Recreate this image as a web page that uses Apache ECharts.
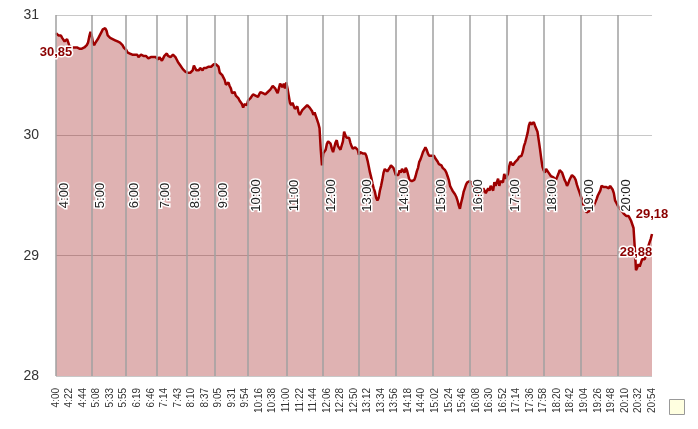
<!DOCTYPE html>
<html>
<head>
<meta charset="utf-8">
<script src="https://cdn.jsdelivr.net/npm/echarts@6/dist/echarts.min.js"></script>
<style>
  html, body { margin: 0; padding: 0; background: #fff; }
  #chart { width: 698px; height: 429px; }
</style>
</head>
<body>
<div id="chart"></div>
<script>
// tick labels shown under the axis (every 11th sampled point)
var tickLabels = ['4:00','4:22','4:44','5:08','5:33','5:55','6:19','6:46','7:14','7:43',
  '8:10','8:37','9:05','9:31','9:54','10:16','10:38','11:00','11:22','11:44',
  '12:06','12:28','12:50','13:12','13:34','13:56','14:18','14:40','15:02','15:24',
  '15:46','16:08','16:30','16:52','17:14','17:36','17:58','18:20','18:42','19:04',
  '19:26','19:48','20:10','20:32','20:54'];

// full hours marked inside the plot, and the point index where each one falls
var hourLabels = ['4:00','5:00','6:00','7:00','8:00','9:00','10:00','11:00','12:00',
  '13:00','14:00','15:00','16:00','17:00','18:00','19:00','20:00'];
var hourIndex = [0,29,57,82,106,129,156,187,217,246,276,306,336,366,396,426,456];

// price (one point every 2 minutes)
var prices = [
  30.85,30.84,30.83,30.83,30.83,30.81,30.80,30.78,30.79,30.80,
  30.77,30.74,30.73,30.73,30.72,30.73,30.72,30.73,30.72,30.72,
  30.73,30.72,30.73,30.73,30.73,30.75,30.77,30.82,30.86,30.83,
  30.77,30.75,30.77,30.78,30.80,30.82,30.83,30.86,30.88,30.89,
  30.89,30.87,30.83,30.82,30.81,30.81,30.80,30.80,30.79,30.79,
  30.78,30.78,30.77,30.77,30.75,30.73,30.72,30.71,30.69,30.68,
  30.68,30.67,30.67,30.67,30.67,30.66,30.67,30.65,30.66,30.67,
  30.67,30.66,30.65,30.66,30.65,30.64,30.65,30.65,30.64,30.65,
  30.66,30.65,30.64,30.63,30.65,30.64,30.62,30.64,30.66,30.67,
  30.68,30.66,30.65,30.65,30.66,30.67,30.67,30.65,30.63,30.61,
  30.60,30.58,30.57,30.55,30.54,30.53,30.53,30.52,30.53,30.52,
  30.52,30.54,30.58,30.56,30.54,30.55,30.54,30.56,30.55,30.54,
  30.56,30.55,30.56,30.55,30.57,30.56,30.57,30.58,30.59,30.58,
  30.59,30.59,30.57,30.52,30.51,30.50,30.48,30.46,30.42,30.43,
  30.44,30.41,30.39,30.35,30.36,30.36,30.33,30.33,30.31,30.29,
  30.28,30.26,30.23,30.26,30.26,30.25,30.29,30.30,30.31,30.32,
  30.34,30.34,30.33,30.32,30.32,30.34,30.36,30.37,30.35,30.36,
  30.34,30.33,30.36,30.37,30.38,30.39,30.41,30.42,30.39,30.37,
  30.35,30.39,30.43,30.44,30.40,30.43,30.39,30.44,30.39,30.33,
  30.27,30.25,30.27,30.28,30.22,30.23,30.24,30.19,30.17,30.19,
  30.21,30.22,30.23,30.23,30.25,30.25,30.23,30.22,30.20,30.17,
  30.19,30.16,30.13,30.10,30.06,29.88,29.75,29.85,29.86,29.88,
  29.93,29.95,29.96,29.93,29.89,29.86,29.90,29.94,29.96,29.91,
  29.92,29.88,29.89,29.95,30.03,30.00,29.98,29.98,29.98,29.94,
  29.91,29.89,29.88,29.90,29.89,29.88,29.84,29.86,29.86,29.85,
  29.86,29.85,29.83,29.79,29.74,29.69,29.65,29.60,29.56,29.53,
  29.48,29.46,29.48,29.54,29.58,29.63,29.69,29.72,29.73,29.70,
  29.71,29.73,29.75,29.74,29.73,29.70,29.67,29.68,29.67,29.71,
  29.69,29.72,29.71,29.69,29.73,29.71,29.67,29.63,29.64,29.62,
  29.62,29.63,29.66,29.70,29.73,29.78,29.80,29.83,29.86,29.88,
  29.90,29.88,29.85,29.83,29.82,29.83,29.82,29.83,29.81,29.81,
  29.78,29.76,29.75,29.75,29.73,29.73,29.71,29.69,29.66,29.63,
  29.58,29.56,29.54,29.53,29.51,29.49,29.46,29.42,29.39,29.44,
  29.48,29.53,29.56,29.59,29.61,29.60,29.62,29.63,29.60,29.58,
  29.57,29.55,29.53,29.50,29.53,29.51,29.53,29.56,29.57,29.52,
  29.54,29.56,29.54,29.58,29.56,29.54,29.61,29.58,29.57,29.64,
  29.58,29.62,29.63,29.61,29.68,29.64,29.63,29.68,29.74,29.78,
  29.78,29.75,29.76,29.78,29.79,29.80,29.82,29.83,29.83,29.86,
  29.91,29.94,29.98,30.02,30.08,30.11,30.09,30.09,30.11,30.08,
  30.09,30.03,29.96,29.89,29.81,29.74,29.71,29.69,29.72,29.73,
  29.69,29.68,29.66,29.67,29.65,29.66,29.63,29.64,29.68,29.71,
  29.71,29.69,29.66,29.63,29.61,29.58,29.60,29.63,29.64,29.67,
  29.66,29.65,29.63,29.59,29.56,29.53,29.50,29.47,29.43,29.41,
  29.38,29.36,29.35,29.37,29.38,29.39,29.40,29.42,29.43,29.47,
  29.50,29.52,29.54,29.58,29.59,29.57,29.58,29.57,29.58,29.56,
  29.58,29.57,29.55,29.52,29.46,29.44,29.42,29.40,29.39,29.38,
  29.37,29.35,29.34,29.33,29.33,29.33,29.31,29.29,29.29,29.23,
  29.07,28.88,28.90,28.93,28.91,28.94,28.97,28.98,28.97,29.00,
  29.05,29.08,29.11,29.14,29.18
];

function addMinutes(t, m){
  var p = t.split(':');
  var total = parseInt(p[0], 10) * 60 + parseInt(p[1], 10) + m;
  var mm = total % 60;
  return Math.floor(total / 60) + ':' + (mm < 10 ? '0' + mm : mm);
}

// category for every sampled point; tick labels sit every 11 points
var times = [];
for (var i = 0; i < tickLabels.length; i++) {
  times.push(tickLabels[i]);
  if (i < tickLabels.length - 1) {
    for (var k = 1; k <= 10; k++) times.push(addMinutes(tickLabels[i], 2 * k));
  }
}

function comma(v){ return String(v).replace('.', ','); }

var hourLines = [];
for (var h = 0; h < hourLabels.length; h++) {
  hourLines.push({ xAxis: hourIndex[h], label: { formatter: hourLabels[h] } });
}

var last = prices.length - 1;
var priceLabel = {
  show: true,
  color: '#8b0000',
  fontWeight: 'bold',
  fontSize: 13,
  fontFamily: 'Liberation Sans, Arial, sans-serif',
  textBorderColor: '#fff',
  textBorderWidth: 3,
  formatter: function(p){ return comma(p.value); }
};

var myChart = echarts.init(document.getElementById('chart'), null, { renderer: 'canvas' });
var option = {
  animation: false,
  grid: { left: 56, right: 46, top: 15, bottom: 53 },
  legend: {
    right: 8,
    bottom: 9,
    itemWidth: 15,
    itemHeight: 15,
    itemGap: 0,
    selectedMode: false,
    formatter: function(){ return ''; },
    data: [{ name: 'Kurs', icon: 'rect',
      itemStyle: { color: '#ffffe0', borderColor: '#999', borderWidth: 1 } }]
  },
  xAxis: {
    type: 'category',
    boundaryGap: false,
    data: times,
    axisLine: { show: false },
    axisTick: { show: false },
    splitLine: { show: false },
    axisLabel: {
      interval: 10,
      rotate: 90,
      margin: 12,
      fontSize: 10,
      color: '#333',
      fontFamily: 'Liberation Sans, Arial, sans-serif'
    }
  },
  yAxis: {
    type: 'value',
    min: 28,
    max: 31,
    interval: 1,
    axisLine: { show: false },
    axisTick: { show: false },
    axisLabel: {
      margin: 17,
      fontSize: 14,
      color: '#333',
      fontFamily: 'Liberation Sans, Arial, sans-serif'
    },
    splitLine: { lineStyle: { color: '#c8c8c8', width: 1 } }
  },
  series: [{
    name: 'Kurs',
    type: 'line',
    data: prices,
    showSymbol: false,
    lineStyle: { color: '#9e0000', width: 2.5 },
    itemStyle: { color: '#9e0000' },
    areaStyle: { color: 'rgba(150,0,0,0.3)', opacity: 1 },
    markLine: {
      silent: true,
      symbol: ['none', 'none'],
      lineStyle: { color: '#a0a0a0', width: 1.5, type: 'solid' },
      label: {
        position: 'insideMiddleBottom',
        distance: 2,
        color: '#222',
        fontSize: 13,
        fontFamily: 'Liberation Sans, Arial, sans-serif',
        textBorderColor: '#fff',
        textBorderWidth: 3
      },
      data: hourLines
    },
    markPoint: {
      silent: true,
      symbol: 'circle',
      symbolSize: 1,
      itemStyle: { color: 'rgba(0,0,0,0)' },
      label: priceLabel,
      data: [
        { coord: [0, prices[0]], value: prices[0], label: { position: 'bottom', distance: 12 } },
        { type: 'min', label: { position: 'top', distance: 11 } },
        { coord: [last, prices[last]], value: prices[last], label: { position: 'top', distance: 13 } }
      ]
    }
  }]
};
myChart.setOption(option);
</script>
</body>
</html>
